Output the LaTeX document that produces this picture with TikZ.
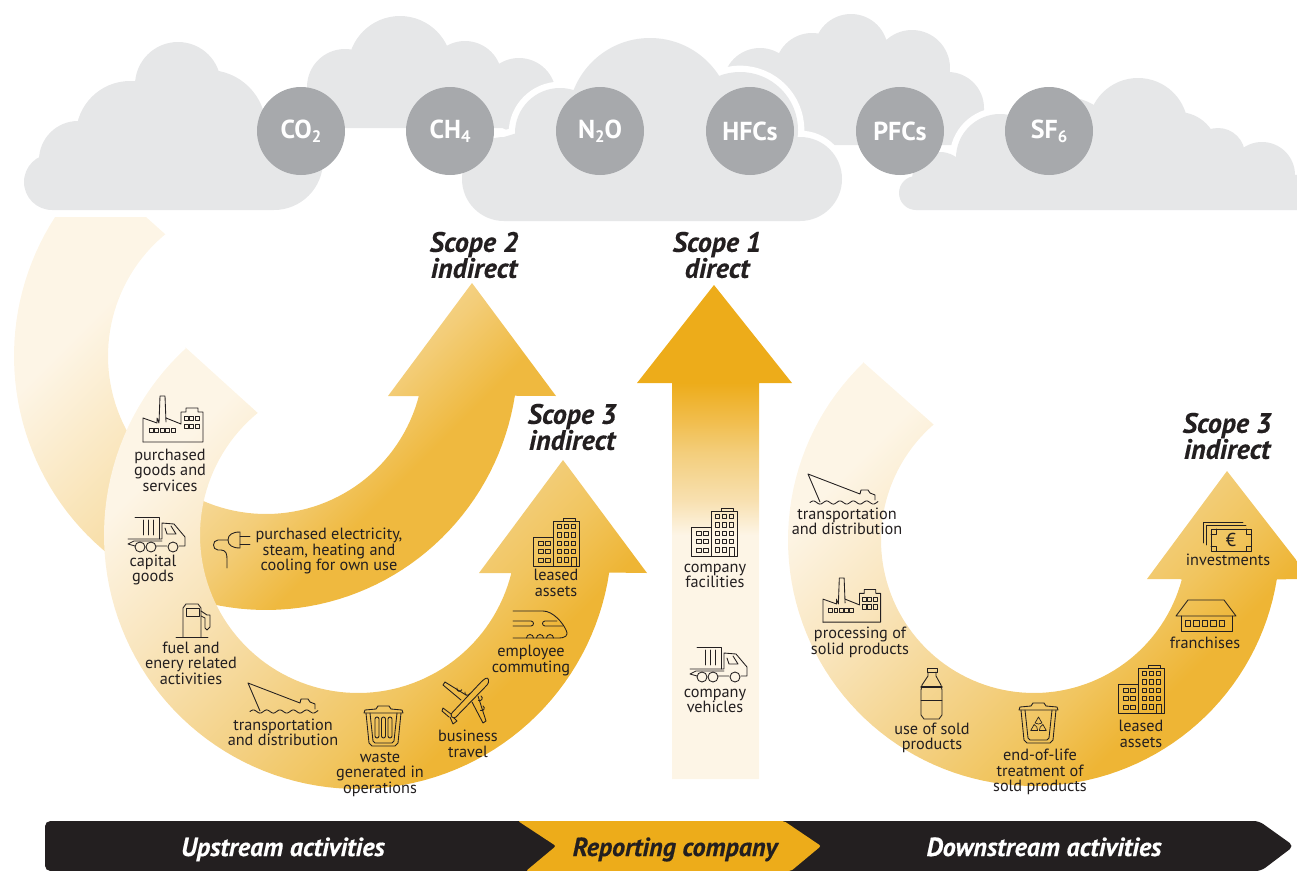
\documentclass[tikz,border=0pt]{standalone}
\usepackage{fontspec}
\setmainfont{PT Sans}
\newfontface\heavyface{PT Sans Bold Italic}[FakeBold=0.4]
\usetikzlibrary{shadings}
\definecolor{cloudg}{HTML}{E6E7E8}
\definecolor{gasg}{HTML}{A7A9AC}
\definecolor{ink}{HTML}{231F20}
\definecolor{amber}{HTML}{EDAC1A}
\definecolor{pale}{HTML}{FDF5E6}
\definecolor{gA}{HTML}{EEB535}
\definecolor{gB}{HTML}{F1C55F}
\definecolor{gC}{HTML}{F3CF7F}
\definecolor{gD}{HTML}{F9E5BD}
\definecolor{hA}{HTML}{EFB93F}
\definecolor{hB}{HTML}{F3CD78}
\definecolor{hC}{HTML}{F8DFAA}
\definecolor{cA}{HTML}{F1BD4C}
\definecolor{cB}{HTML}{F3CE7C}
\definecolor{cC}{HTML}{F8E0B0}
\pgfdeclareverticalshading{bigarc}{100bp}{color(0bp)=(gA); color(32bp)=(gA); color(39bp)=(gB); color(46bp)=(gC); color(61bp)=(gD); color(73bp)=(pale); color(100bp)=(pale)}
\pgfdeclareverticalshading{firstarc}{100bp}{color(0bp)=(hA); color(36bp)=(hA); color(44bp)=(hB); color(54bp)=(hC); color(72bp)=(pale); color(100bp)=(pale)}
\pgfdeclareverticalshading{centre}{100bp}{color(0bp)=(pale); color(49.7bp)=(pale); color(53.2bp)=(cC); color(58bp)=(cB); color(61.3bp)=(cA); color(65.1bp)=(amber); color(100bp)=(amber)}
\newcommand{\gsub}[1]{\raisebox{-.32ex}{\fontsize{12.5}{12.5}\selectfont #1}}
\newcommand{\cloudA}{(52,182) circle[radius=28] (78,160) circle[radius=39] (130,135) circle[radius=54] (178,85) circle[radius=43] (208,128) circle[radius=58] (274,161) circle[radius=49] (52,210) -- (52,154) -- (60,140) -- (274,130) -- (274,210) -- cycle}
\newcommand{\cloudB}{(345,87) circle[radius=38] (400,68) circle[radius=52] (465,78) circle[radius=37] (519,95) circle[radius=37] (307,128) -- (307,87) -- (345,60) -- (556,95) -- (556,128) -- cycle}
\newcommand{\cloudC}{(504,179) circle[radius=42] (560,133) circle[radius=45] (650,120) circle[radius=82] (740,130) circle[radius=58] (800,179) circle[radius=42] (504,221) -- (504,137) -- (560,120) -- (650,120) -- (800,140) -- (800,221) -- cycle}
\newcommand{\cloudD}{(760,85) circle[radius=37] (812,70) circle[radius=37] (851,51) circle[radius=37] (912,68) circle[radius=38] (948,108) circle[radius=36] (745,145) -- (760,70) -- (912,68) -- (984,108) -- (984,145) -- cycle}
\newcommand{\cloudE}{(916,193) circle[radius=17] (940,180) circle[radius=28] (1000,158) circle[radius=44] (1065,153) circle[radius=56] (1138,128) circle[radius=50] (1178,152) circle[radius=40] (1218,155) circle[radius=27] (1262,175) circle[radius=33] (916,210) -- (916,176) -- (1000,150) -- (1138,140) -- (1262,170) -- (1297,175) -- (1297,210) -- cycle}
\tikzset{
  x=0.75pt,y=-0.75pt,
  lab/.style={align=center,inner sep=0pt,text=ink,font=\fontsize{12.2}{11.55}\selectfont},
  scopelab/.style={align=center,inner sep=0pt,text=ink,font=\fontsize{21}{19.5}\heavyface},
  bandlab/.style={inner sep=0pt,anchor=base,font=\fontsize{19.6}{20}\heavyface},
  gaslab/.style={circle,fill=gasg,minimum size=66pt,inner sep=0pt,text=white,font=\fontsize{19.5}{20}\selectfont\bfseries},
  ic/.style={draw=ink,line width=.65pt,line join=round,line cap=round},
  factoryicon/.pic={
    \draw[ic] (0,46)--(60,46)--(60,16)--(55,16)--(55,12)--(43,12)--(43,16)--(38,16)--(38,28)--(23,22);
    \draw[ic] (0,46)--(0,22)--(14,27)--(14,22)--(16,27)--(17,0)--(22,0)--(23,26);
    \foreach \q in {6,11.5,17,22.5,28} \draw[ic] (\q,32) rectangle ++(4,4);
    \foreach \q in {41,46.7,52.3} \foreach \w in {20,28} \draw[ic] (\q,\w) rectangle ++(4.2,4.6);
  },
  truckicon/.pic={
    \draw[ic] (8,0)--(32,0)--(32,22);
    \draw[ic] (16,3)--(16,18) (21,3)--(21,18) (26,3)--(26,18);
    \draw[ic] (1,22)--(35,22)--(35,6)--(47,7)--(58,20)--(58,29)--(52,29);
    \draw[ic] (40,29)--(29,29) (8,29)--(1,27)--(7,24)--(35,24);
    \draw[ic] (38,11)--(40,17)--(49,17)--(44,9);
    \foreach \q in {13,24,46} \draw[ic] (\q,30) circle[radius=5];
  },
  pumpicon/.pic={
    \draw[ic] (0,33)--(32,33);
    \draw[ic] (7,33)--(7,4)--(10,0)--(22,0)--(25,4)--(25,33);
    \draw[ic] (10,4) rectangle (23,12);
    \draw[ic] (25,7)--(31,11)--(34,11)--(34,23)--(31,26)--(29,24)--(29,14)--(25,12);
  },
  shipicon/.pic={
    \draw[ic] (12,28)--(0,0)--(52,20)--(53,16)--(60,16)--(62,19)--(67,21)--(67,26);
    \draw[ic] plot[domain=0:68,samples=50] ({2+\x},{28.5-1.6*sin(\x*27)});
  },
  binicon/.pic={
    \draw[ic] (0,8)--(1,5)--(12,4)--(14,1)--(25,1)--(27,4)--(38,5)--(39,8)--cycle;
    \draw[ic] (2,8)--(5,38)--(8,41)--(31,41)--(34,38)--(37,8);
    \draw[ic] (6,8)--(9,36)--(11,38)--(28,38)--(30,36)--(33,8);
    \foreach \q in {11,17.5,24} \draw[ic,rounded corners=1.5pt] (\q,12) rectangle ++(4,21);
  },
  planeicon/.pic={
    \draw[ic,rounded corners=2pt] (8,38)--(41,3)--(46,0)--(47,6)--(12,42)--cycle;
    \draw[ic] (24,18)--(3,5)--(1,8)--(19,23);
    \draw[ic] (30,25)--(41,46)--(44,44)--(36,19);
    \draw[ic] (15,11) arc[start angle=200,end angle=20,radius=2.5] (23,15) arc[start angle=200,end angle=20,radius=2.5];
    \draw[ic] (39,19) arc[start angle=-60,end angle=120,radius=2.5] (41,29) arc[start angle=-60,end angle=120,radius=2.5];
    \draw[ic] (9,37)--(1,31)--(0,34)--(7,40);
    \draw[ic] (12,41)--(15,44)--(11,47)--(8,40);
  },
  trainicon/.pic={
    \draw[ic] (0,0)--(30,0) .. controls (40,0) and (50,12) .. (53,19) .. controls (56,25) and (52,27) .. (45,27)--(0,27);
    \draw[ic] (0,10)--(18,10) arc[start angle=-90,end angle=90,radius=2.5]--(0,15);
    \draw[ic] (32,10)--(44,10) (32,15)--(50,15) (32,10) arc[start angle=-90,end angle=-270,radius=2.5];
    \foreach \q in {17,27,37} \draw[ic] (\q-3.5,27) arc[start angle=180,end angle=360,radius=3.5];
  },
  buildingicon/.pic={
    \draw[ic] (0,19) rectangle (20,48);
    \draw[ic] (20,3) rectangle (46,48);
    \draw[ic] (30,3)--(30,0)--(42,0)--(42,3);
    \foreach \q in {24,31,38} \foreach \w in {6,14.5,23,31} \draw[ic] (\q,\w) rectangle ++(4.5,4.5);
    \foreach \q in {24,31} \draw[ic] (\q,39.5) rectangle ++(4.5,4.5);
    \draw[ic] (38,48)--(38,39.5)--(43,39.5)--(43,48);
    \foreach \q in {5,12} \foreach \w in {23,31,40} \draw[ic] (\q,\w) rectangle ++(5,4.5);
  },
  plugicon/.pic={
    \draw[ic] (28,1) .. controls (20,1) and (16,4) .. (16,9) .. controls (16,14) and (20,17) .. (28,17)--cycle;
    \draw[ic] (28,5)--(38,5) (28,13)--(38,13);
    \draw[ic] (16,9)--(6,9) .. controls (0,9) and (0,19) .. (6,19)--(9,19) .. controls (14,19) and (15,23) .. (15,28)--(15,37);
  },
  bottleicon/.pic={
    \draw[ic] (6,1) rectangle (16,5);
    \draw[ic] (7,5)--(7,9)--(1,18)--(0,23)--(0,48)--(3,52)--(18,52)--(21,48)--(21,23)--(20,18)--(15,9)--(15,5);
    \draw[ic,line width=1pt] (0,20)--(21,20);
    \draw[ic] (0,33)--(21,33);
  },
  recycleicon/.pic={
    \draw[ic] (0,8)--(1,5)--(12,4)--(14,1)--(25,1)--(27,4)--(38,5)--(39,8)--cycle;
    \draw[ic] (2,8)--(5,38)--(8,41)--(31,41)--(34,38)--(37,8);
    \draw[ic] (6,8)--(9,36)--(11,38)--(28,38)--(30,36)--(33,8);
    \foreach \q in {0,120,240} \draw[ic,shift={(19.5,24)},rotate=\q,line width=.5pt] (-3.5,-3)--(0,-9)--(3.5,-3)--(0,-2)--cycle;
  },
  moneyicon/.pic={
    \draw[ic] (0,21)--(0,0)--(40,0) (3,23)--(3,3)--(43,3);
    \draw[ic] (8,7)--(48,7)--(48,29)--(8,29)--cycle;
    \draw[ic] (8,12)--(13,12)--(13,7) (43,7)--(43,12)--(48,12) (48,24)--(43,24)--(43,29) (13,29)--(13,24)--(8,24);
    \node[inner sep=0pt,text=ink,font=\fontsize{14}{14}\selectfont] (-euro) at (28,18) {€};
  },
  houseicon/.pic={
    \draw[ic] (0,16)--(12,0)--(48,0)--(60,16)--cycle;
    \draw[ic] (5,16)--(5,31)--(56,31)--(56,16);
    \foreach \q in {9,17.5,26,34.5,43} \draw[ic] (\q,20) rectangle ++(5.5,6);
  }
}
\begin{document}
\begin{tikzpicture}
\useasboundingbox (0,0) rectangle (1297,871);
% clouds
\fill[cloudg] \cloudB;
\fill[cloudg] \cloudD;
\draw[white,line width=9.5pt] \cloudC; \fill[cloudg] \cloudC;
\draw[white,line width=9.5pt] \cloudE; \fill[cloudg] \cloudE;
\fill[cloudg] \cloudA;
\node[gaslab] (g1) at (301,131) {CO\gsub{2}};
\node[gaslab] (g2) at (450,131) {CH\gsub{4}};
\node[gaslab] (g3) at (600,131) {N\gsub{2}O};
\node[gaslab] (g4) at (750,131) {HFCs};
\node[gaslab] (g5) at (900,131) {PFCs};
\node[gaslab] (g6) at (1049,131) {SF\gsub{6}};
% arrows
\shade[shading=firstarc,shading angle=45] (146,217) -- (55,217) -- plot[domain=213.2:9,samples=90] ({266+252*cos(\x)},{356+254*sin(\x)}) -- (556,396) -- (472,283) -- (388,396) -- (422,396) -- plot[domain=14.4:230.4,samples=90] ({266+158*cos(\x)},{356+158*sin(\x)}) -- cycle;
\shade[shading=bigarc,shading angle=45] (185,347) -- plot[domain=227.4:8.5,samples=90] ({358+254*cos(\x)},{535+254*sin(\x)}) -- (647,573) -- (563,460) -- (479,573) -- (513,573) -- plot[domain=13.8:230.6,samples=90] ({358+158*cos(\x)},{535+158*sin(\x)}) -- cycle;
\shade[shading=bigarc,shading angle=45] (863,362) -- plot[domain=226.1:9.2,samples=90] ({1034+246*cos(\x)},{540+246*sin(\x)}) -- (1311,579) -- (1227,471) -- (1147,579) -- (1180,579) -- plot[domain=15:229,samples=90] ({1034+153*cos(\x)},{540+153*sin(\x)}) -- cycle;
\shade[shading=centre] (714,285) -- (792,383) -- (759,383) -- (759,779) -- (672,779) -- (672,383) -- (637,383) -- cycle;
% scope labels
\node[scopelab] (s2) at (474,255) {Scope 2\\indirect};
\node[scopelab] (s1) at (717,255) {Scope 1\\direct};
\node[scopelab] (s3a) at (572,427) {Scope 3\\indirect};
\node[scopelab] (s3b) at (1227,436) {Scope 3\\indirect};
% icons
\pic at (143,396) {factoryicon};
\pic at (127,517) {truckicon};
\pic at (176,604) {pumpicon};
\pic at (212,531) {plugicon};
\pic at (248,683) {shipicon};
\pic at (364,705) {binicon};
\pic at (442,677) {planeicon};
\pic at (513,611) {trainicon};
\pic at (533,518) {buildingicon};
\pic at (691,508) {buildingicon};
\pic at (689,647) {truckicon};
\pic at (808,474) {shipicon};
\pic[scale=.96] at (823,578) {factoryicon};
\pic at (921,667) {bottleicon};
\pic at (1019,702) {recycleicon};
\pic at (1118,665) {buildingicon};
\pic at (1176,600) {houseicon};
\pic at (1203,522) {moneyicon};
% item labels
\node[lab] (a1) at (170,470) {purchased\\goods and\\services};
\node[lab] (a2) at (153,570) {capital\\goods};
\node[lab] (a3) at (191,663) {fuel and\\enery related\\activities};
\node[lab] (a4) at (329,551) {purchased electricity,\\steam, heating and\\cooling for own use};
\node[lab] (a5) at (283,732.5) {transportation\\and distribution};
\node[lab] (a6) at (380,774.5) {waste\\generated in\\operations};
\node[lab] (a7) at (468,744) {business\\travel};
\node[lab] (a8) at (531,660.5) {employee\\commuting};
\node[lab] (a9) at (556,583) {leased\\assets};
\node[lab] (c1) at (715,576) {company\\facilities};
\node[lab] (c2) at (715,701) {company\\vehicles};
\node[lab] (d1) at (847,521.5) {transportation\\and distribution};
\node[lab] (d2) at (860,642.5) {processing of\\solid products};
\node[lab] (d3) at (932,738) {use of sold\\products};
\node[lab] (d4) at (1040,772) {end-of-life\\treatment of\\sold products};
\node[lab] (d5) at (1141,734) {leased\\assets};
\node[lab] (d6) at (1205,643) {franchises};
\node[lab] (d7) at (1228,560) {investments};
% band
\fill[ink,rounded corners=4pt] (1261,871) -- (45,871) -- (45,821) -- (1259,821) -- (1294,846) -- cycle;
\fill[amber,rounded corners=1.5pt] (518,821) -- (784,821) -- (821,846) -- (791,871) -- (526,871) -- (556,846) -- cycle;
\node[bandlab,text=white] (b1) at (283,856) {Upstream activities};
\node[bandlab,text=ink] (b2) at (675,856) {Reporting company};
\node[bandlab,text=white] (b3) at (1044,856) {Downstream activities};
\end{tikzpicture}
\end{document}
